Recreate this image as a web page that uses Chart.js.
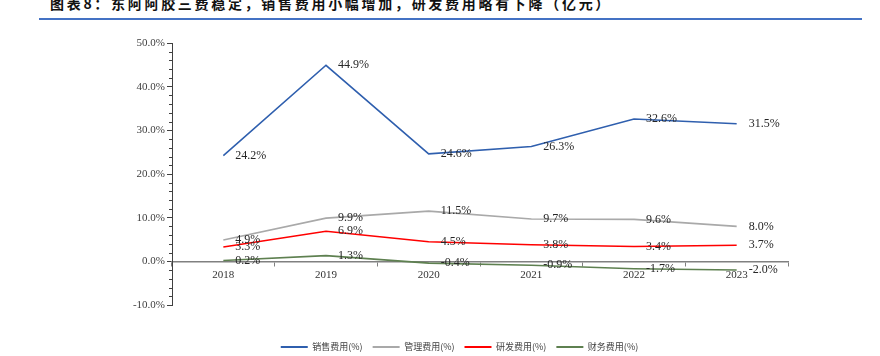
<!DOCTYPE html>
<html><head><meta charset="utf-8">
<script src="https://cdn.jsdelivr.net/npm/chart.js@4"></script>
<style>
html,body{margin:0;padding:0;width:880px;height:356px;overflow:hidden;background:#fff;}
#title{position:absolute;left:50px;top:-4px;font:bold 14px/14px "Noto Sans CJK SC";letter-spacing:2.7px;color:#111;white-space:nowrap;}
#rule{position:absolute;left:39px;top:18px;width:823px;height:2px;background:#4472C4;}
#wrap{position:absolute;left:0;top:0;width:880px;height:362px;}
</style></head>
<body>
<div id="title">图表8：东阿阿胶三费稳定，销售费用小幅增加，研发费用略有下降（亿元）</div>
<div id="rule"></div>
<div id="wrap"><canvas id="c" width="880" height="362"></canvas></div>
<script>
const years = ['2018','2019','2020','2021','2022','2023'];
const sales = [24.2, 44.9, 24.6, 26.3, 32.6, 31.5];
const admin = [4.9, 9.9, 11.5, 9.7, 9.6, 8.0];
const rnd = [3.3, 6.9, 4.5, 3.8, 3.4, 3.7];
const fin = [0.2, 1.3, -0.4, -0.9, -1.7, -2.0];
const seriesNames = ['销售费用(%)', '管理费用(%)', '研发费用(%)', '财务费用(%)'];
const seriesColors = ['#2F5FAE', '#A9A9A9', '#FF0000', '#5E8050'];
const yMin = -10, yMax = 50, yStep = 10, yMinorStep = 2;

const serif = '"Liberation Serif", "Times New Roman", serif';

const labelPlugin = {
  id: 'pctLabels',
  afterDatasetsDraw(chart) {
    const ctx = chart.ctx;
    ctx.save();
    ctx.font = '12px ' + serif;
    ctx.fillStyle = '#262626';
    ctx.textAlign = 'left';
    ctx.textBaseline = 'middle';
    chart.data.datasets.forEach((ds, i) => {
      chart.getDatasetMeta(i).data.forEach((pt, j) => {
        ctx.fillText(ds.data[j].toFixed(1) + '%', pt.x + 12, pt.y);
      });
    });
    ctx.restore();
  }
};

const minorTicks = {
  id: 'minorTicks',
  afterDraw(chart) {
    const ys = chart.scales.y, ctx = chart.ctx;
    const x0 = chart.chartArea.left;
    ctx.save();
    ctx.strokeStyle = '#404040';
    ctx.lineWidth = 1;
    ctx.beginPath();
    for (let v = yMin; v <= yMax; v += yMinorStep) {
      if (v % yStep === 0) continue;
      const py = Math.round(ys.getPixelForValue(v)) + 0.5;
      ctx.moveTo(x0 - 3, py);
      ctx.lineTo(x0, py);
    }
    ctx.stroke();
    ctx.restore();
  }
};

const dataSets = [sales, admin, rnd, fin].map((d, i) => ({
  label: seriesNames[i],
  data: d,
  borderColor: seriesColors[i],
  backgroundColor: seriesColors[i],
  borderWidth: 1.6,
  pointRadius: 0,
  tension: 0
}));

new Chart(document.getElementById('c'), {
  type: 'line',
  data: { labels: years, datasets: dataSets },
  plugins: [labelPlugin, minorTicks],
  options: {
    responsive: false,
    animation: false,
    devicePixelRatio: 1,
    layout: { padding: { left: 131, right: 92, top: 43, bottom: 0.5 } },
    plugins: {
      tooltip: { enabled: false },
      legend: {
        position: 'bottom',
        title: { display: true, text: '', font: { size: 10 }, padding: { top: 15.5, bottom: 0 } },
        labels: {
          boxWidth: 27,
          boxHeight: 2,
          padding: 10,
          color: '#404040',
          font: { family: '"Noto Sans CJK SC"', size: 9 },
          generateLabels(chart) {
            return Chart.defaults.plugins.legend.labels.generateLabels(chart).map(l => Object.assign(l, { lineWidth: 0 }));
          }
        }
      }
    },
    scales: {
      x: {
        type: 'category',
        position: { y: 0 },
        offset: true,
        afterFit(s) { s.height = 0; },
        grid: { offset: true, drawOnChartArea: false, tickLength: 4, color: '#808080', tickWidth: 1 },
        border: { color: '#808080', width: 1.5 },
        ticks: { autoSkip: false, maxRotation: 0, padding: 3, color: '#333', font: { family: serif, size: 11 } }
      },
      y: {
        min: yMin,
        max: yMax,
        afterFit(s) { s.width = 41; },
        ticks: {
          stepSize: yStep,
          padding: 2,
          color: '#404040',
          font: { family: serif, size: 11 },
          callback: v => v.toFixed(1) + '%'
        },
        grid: { drawOnChartArea: false, tickLength: 5, color: '#404040' },
        border: { color: '#404040', width: 1 }
      }
    }
  }
});
</script>
</body></html>
